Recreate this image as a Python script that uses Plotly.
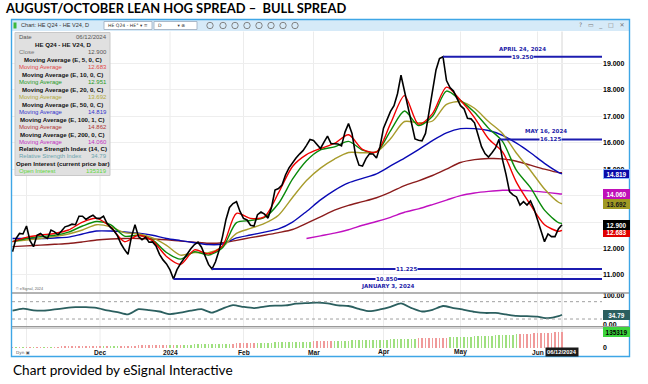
import pandas as pd
import plotly.graph_objects as go

W, H = 648, 384

# ---------------- DATA ----------------
HOLIDAYS = ["2023-11-23", "2023-12-25", "2024-01-01", "2024-01-15",
            "2024-02-19", "2024-03-29", "2024-05-27"]
sessions = [d.strftime("%Y-%m-%d") for d in
            pd.bdate_range("2023-10-26", "2024-06-12", freq="C", holidays=HOLIDAYS)]

close = [11.88, 12.38, 12.57, 12.55, 12.85, 12.30, 12.07, 12.50, 12.57, 12.45,
         12.38, 12.70, 12.63, 12.52, 12.66, 12.82, 12.86, 12.92, 12.90, 13.22,
         13.22, 13.10, 13.19, 13.26, 13.14, 13.14, 13.22, 12.95, 12.80, 12.67,
         12.48, 12.18, 11.96, 11.78, 12.45, 12.90, 12.45, 12.33, 12.43, 12.24,
         12.25, 12.10, 11.78, 11.57, 11.42, 11.19, 10.85, 11.20, 11.43, 11.62,
         11.85, 12.00, 12.15, 12.24, 12.05, 11.70, 11.40, 11.225, 11.50, 11.92,
         12.45, 13.10, 13.55, 13.70, 13.77, 13.40, 13.14, 13.08, 12.88, 12.85,
         13.28, 13.38, 13.30, 13.15, 13.55, 14.21, 14.27, 14.40, 14.78, 15.05,
         15.25, 15.42, 15.57, 15.70, 15.90, 16.12, 16.08, 15.92, 15.78, 16.02,
         16.25, 15.97, 15.95, 15.95, 15.88, 16.40, 16.72, 16.35, 15.55, 15.15,
         15.12, 15.40, 15.58, 15.57, 15.42, 15.85, 16.55, 16.87, 17.18, 17.40,
         17.85, 18.55, 17.95, 17.32, 16.68, 16.14, 16.09, 16.07, 16.35, 17.15,
         18.10, 18.75, 19.18, 19.25, 18.35, 18.08, 17.95, 17.65, 17.40, 17.28,
         16.92, 16.90, 16.75, 16.30, 15.85, 15.59, 15.46, 15.62, 15.80, 16.125,
         15.36, 14.80, 14.15, 14.03, 13.95, 13.64, 13.77, 13.64, 13.80, 13.50,
         13.10, 12.70, 12.26, 12.55, 12.45, 12.45, 12.75, 12.90]

ma_dates = sessions[::4] + [sessions[-1]]
ma5 = [12.26, 12.42, 12.51, 12.57, 12.70, 13.00, 13.14, 12.82, 12.26, 12.50,
       12.30, 11.70, 11.40, 11.95, 11.80, 12.10, 13.33, 13.14, 13.20, 14.10,
       15.10, 15.55, 15.78, 15.97, 16.30, 15.75, 15.65, 16.72, 17.78, 16.70,
       17.10, 18.10, 17.60, 16.95, 16.15, 15.65, 14.50, 13.65, 12.90, 12.65, 12.683]
ma10 = [12.26, 12.38, 12.45, 12.50, 12.62, 12.85, 13.02, 12.90, 12.47, 12.50,
        12.33, 11.85, 11.60, 11.88, 11.75, 12.03, 12.98, 13.06, 13.18, 13.70,
        14.62, 15.32, 15.73, 15.84, 16.05, 15.72, 15.65, 16.45, 17.20, 16.65,
        17.00, 17.95, 17.60, 17.15, 16.55, 16.05, 14.95, 14.30, 13.45, 12.98, 12.951]
ma20 = [12.26, 12.32, 12.38, 12.45, 12.55, 12.70, 12.90, 12.82, 12.60, 12.56,
        12.40, 12.12, 11.75, 11.85, 11.84, 12.06, 12.57, 12.76, 12.95, 13.26,
        13.93, 14.57, 15.04, 15.38, 15.63, 15.62, 15.65, 16.15, 16.80, 16.75,
        16.82, 17.45, 17.55, 17.30, 16.80, 16.35, 15.60, 14.95, 14.25, 13.75, 13.692]
ma50 = [12.38, 12.38, 12.38, 12.40, 12.43, 12.55, 12.66, 12.66, 12.63, 12.58,
        12.50, 12.38, 12.30, 12.22, 12.15, 12.17, 12.40, 12.51, 12.62, 12.74,
        13.00, 13.40, 13.84, 14.20, 14.48, 14.65, 14.82, 15.12, 15.42, 15.74,
        16.08, 16.37, 16.53, 16.53, 16.46, 16.28, 15.98, 15.62, 15.22, 14.88, 14.819]
ma100 = [12.07, 12.10, 12.13, 12.16, 12.19, 12.25, 12.32, 12.36, 12.38, 12.38,
         12.36, 12.33, 12.28, 12.24, 12.20, 12.22, 12.31, 12.41, 12.50, 12.60,
         12.72, 12.95, 13.20, 13.45, 13.63, 13.77, 13.92, 14.13, 14.38, 14.56,
         14.76, 15.00, 15.25, 15.36, 15.40, 15.39, 15.30, 15.15, 15.00, 14.87, 14.862]
ma200 = [None] * 21 + [12.38, 12.48, 12.58, 12.71, 12.88, 13.02, 13.18, 13.37, 13.50,
                       13.66, 13.83, 14.00, 14.10, 14.16, 14.20, 14.20, 14.18, 14.13,
                       14.07, 14.06]

rsi_dates = sessions[::3] + [sessions[-1]]
rsi = [49, 56, 50, 49, 53, 57.5, 61, 61, 58.5, 50, 44, 36, 54, 51, 46, 37, 42, 49,
       54, 42, 56, 68, 62, 58, 63, 66, 67, 73, 75, 76.5, 74, 67, 65, 55, 47, 53,
       62, 74, 58, 46, 52, 65, 58, 52, 45, 41, 41, 36, 31, 30, 28, 23, 30, 34.79]

oi = [4000, 4300, 4700, 5000, 5400, 5700, 6100, 6400, 6800, 7100, 7500, 7800, 8200,
      8500, 8900, 9200, 9600, 9900, 10300, 10600, 11000, 11300, 11700, 12000, 12400,
      12800, 13300, 13700, 14200, 14600, 15100, 15500, 16000, 16400, 16900, 17300,
      17800, 18200, 18700, 19100, 19600, 20000, 20500, 20900, 21400,
      21900, 22600, 23300, 24000, 24700, 25400, 26100, 26800, 27500, 28200, 28900,
      29600, 30300, 31000, 31700, 32400, 33100, 33800, 34500, 35200, 35900,
      36600, 37400, 38200, 39000, 39800, 40600, 41400, 42200, 43000, 43800, 44600,
      45400, 46200, 47000, 47800, 48600, 49400, 50200, 51000, 51800,
      52600, 53400, 54200, 55000, 55800, 56600, 57400, 58200, 59000, 59800, 60600,
      61400, 62200, 63000, 63800, 64600, 65400, 66200, 67000, 67800,
      68700, 69700, 70700, 71700, 72700, 73700, 74700, 75700, 76700, 77700, 78700,
      79700, 80700, 81700, 82700, 83700, 84700, 85700, 86700, 87700, 88700, 89700,
      91000, 92500, 94000, 95500, 97000, 98500, 100000, 101500, 103000, 104500,
      106000, 107500, 109000, 110500, 112000, 113500, 115000, 116500, 118000,
      119500, 121000, 122500,
      124000, 125500, 127000, 128500, 130000, 131500, 133400, 135319]
oi_dir = ("rgrgrrgrrgrgr" "rrrrrrrrrrrr" "rgrgggrr" "rrrrrrrrrrr" "rgrgrg"
          "ggggggggggggg" "rrrrrrr" "gggggggggg" "gggggg" "rrrrrr"
          "gggggggggggggggggggggggg" "rrrrrrrrr" "gggggggggggggggggggg" "rrrrrrrrrrrrr")

month_dates = ["2023-12-01", "2024-01-02", "2024-02-01", "2024-03-01",
               "2024-04-01", "2024-05-01", "2024-06-03"]
month_labels = ["Dec", "2024", "Feb", "Mar", "Apr", "May", "Jun"]
grid_dates = ["2023-11-01"] + month_dates

ext_dates = ["2024-04-24", "2024-05-16", "2024-01-19", "2024-01-03"]
ext_values = [19.250, 16.125, 11.225, 10.850]
ext_titles = ["APRIL 24, 2024", "MAY 16, 2024", "", "JANUARY 3, 2024"]

price_ticks = [11, 12, 13, 14, 15, 16, 17, 18, 19]
hidden_ticks = [13, 14]          # covered by the value tags in the original

# ---------------- GEOMETRY HELPERS ----------------
assert len(sessions) == len(close) == len(oi) == len(oi_dir)
pos = {d: k for k, d in enumerate(sessions)}
xs = list(range(len(sessions)))


def X(px):
    return px / W


def Y(py):
    return 1 - py / H


def KX(px):  # pixel -> session index
    return (px - 12.5) / 3.5


PL, PR = 12, 602
xr = [KX(PL), KX(PR)]

fig = go.Figure()

ma_x = [pos[d] for d in ma_dates]
ma_specs = [(ma100, "#8b1c1c"), (ma200, "#c010c0"), (ma50, "#0a0ab4"),
            (ma20, "#a89c2c"), (ma10, "#0a8a0a"), (ma5, "#f00000")]
for vals, col in ma_specs:
    fig.add_trace(go.Scatter(x=ma_x, y=vals, mode="lines", xaxis="x", yaxis="y",
                             line=dict(color=col, width=1.4, shape="spline", smoothing=0.8),
                             connectgaps=False))
fig.add_trace(go.Scatter(x=xs, y=close, mode="lines", xaxis="x", yaxis="y",
                         line=dict(color="#000000", width=1.6)))

fig.add_trace(go.Scatter(x=[pos[d] for d in rsi_dates], y=rsi, mode="lines",
                         xaxis="x2", yaxis="y2",
                         line=dict(color="#2b5f5f", width=1.8, shape="spline", smoothing=0.6)))

fig.add_trace(go.Bar(x=xs, y=oi, xaxis="x3", yaxis="y3", width=0.38,
                     marker=dict(color=["#9fe07f" if c == "g" else "#f09a9a" for c in oi_dir],
                                 line=dict(width=0))))

common_x = dict(domain=[X(PL), X(PR)], range=xr, showticklabels=False, showgrid=False,
                zeroline=False, showline=False, fixedrange=True, automargin=False)
tickfont = dict(family="Liberation Sans", size=7, color="#000000", weight="bold")

fig.update_layout(
    width=W, height=H, margin=dict(l=0, r=0, t=0, b=0, pad=0),
    paper_bgcolor="white", plot_bgcolor="white", showlegend=False, hovermode=False,
    bargap=0,
    xaxis=dict(anchor="y", **common_x),
    xaxis2=dict(anchor="y2", matches="x", **common_x),
    xaxis3=dict(anchor="y3", matches="x", **common_x),
    yaxis=dict(domain=[Y(292), Y(31.5)], range=[10.357, 20.202], side="right", anchor="x",
               tickvals=price_ticks,
               ticktext=["" if v in hidden_ticks else f"{v:.3f}" for v in price_ticks],
               tickfont=tickfont, showgrid=True, gridcolor="#eeeeee", gridwidth=1,
               zeroline=False, ticks="", fixedrange=True, automargin=False),
    yaxis2=dict(domain=[Y(326.5), Y(293.5)], range=[-5.9, 108.3], side="right", anchor="x2",
                tickvals=[0, 100], ticktext=["0.00", "100.00"], tickfont=tickfont,
                showgrid=False, zeroline=False, ticks="", fixedrange=True, automargin=False),
    yaxis3=dict(domain=[Y(348), Y(328)], range=[-4365, 170240], side="right", anchor="x3",
                tickvals=[0], ticktext=["0"], tickfont=tickfont,
                showgrid=False, zeroline=False, ticks="", fixedrange=True, automargin=False),
)

shapes = []
ann = []

# month grid lines
for d in grid_dates:
    shapes.append(dict(type="line", xref="x", yref="paper", x0=pos[d], x1=pos[d],
                       y0=Y(348), y1=Y(31.5), line=dict(color="#ececec", width=1), layer="below"))
# current bar line
shapes.append(dict(type="line", xref="x", yref="paper", x0=xs[-1], x1=xs[-1],
                   y0=Y(348), y1=Y(31.5), line=dict(color="#d6d6d6", width=1), layer="below"))

# RSI bands
for lvl in (80, 20):
    shapes.append(dict(type="line", xref="paper", yref="y2", x0=X(PL), x1=X(PR), y0=lvl, y1=lvl,
                       line=dict(color="#a0a0a0", width=1, dash="dot")))

# panel separators
shapes.append(dict(type="line", xref="paper", yref="paper", x0=X(11.5), x1=X(629), y0=Y(293), y1=Y(293),
                   line=dict(color="#9a9a9a", width=1.3)))
shapes.append(dict(type="line", xref="paper", yref="paper", x0=X(11.5), x1=X(629), y0=Y(326.6), y1=Y(326.6),
                   line=dict(color="#9a9a9a", width=1.2)))
shapes.append(dict(type="line", xref="paper", yref="paper", x0=X(11.5), x1=X(629), y0=Y(328.2), y1=Y(328.2),
                   line=dict(color="#c4c4c4", width=1.2)))

# extreme lines
for d, v in zip(ext_dates, ext_values):
    shapes.append(dict(type="line", xref="x", yref="y", x0=pos[d], x1=xr[1], y0=v, y1=v,
                       line=dict(color="#1c1cb0", width=2)))

ext_label_px = [522, 550, 406, 386]
ext_title_px = [522, 546, 0, 388]
ext_title_dy = [-8, -8, 0, 8]
afont = dict(family="DejaVu Sans", size=5.5, color="#1c1ca8")
for d, v, t, lx, tx, dy in zip(ext_dates, ext_values, ext_titles, ext_label_px, ext_title_px, ext_title_dy):
    ann.append(dict(xref="x", yref="y", x=KX(lx), y=v, text=f"<b>{v:.3f}</b>", showarrow=False,
                    font=afont, bgcolor="white", borderpad=0, xanchor="center", yanchor="middle"))
    if t:
        ann.append(dict(xref="x", yref="y", x=KX(tx), y=v, yshift=-dy, text=f"<b>{t}</b>",
                        showarrow=False, font=afont, xanchor="center", yanchor="middle"))

# ---- data window ----
shapes.append(dict(type="rect", xref="paper", yref="paper", x0=X(15), x1=X(110), y0=Y(175.5), y1=Y(32.5),
                   fillcolor="#e0e0e0", line=dict(color="#c9c9c9", width=1)))
dw_font = "Liberation Sans"
rows = [
    ("Date", "#555555", "06/12/2024", None),
    (None, None, None, "HE Q24 - HE V24, D"),
    ("Close", "#777777", f"{close[-1]:.3f}", None),
    (None, None, None, "Moving Average (E, 5, 0, C)"),
    ("Moving Average", "#e04848", f"{ma5[-1]:.3f}", None),
    (None, None, None, "Moving Average (E, 10, 0, C)"),
    ("Moving Average", "#1f9a1f", f"{ma10[-1]:.3f}", None),
    (None, None, None, "Moving Average (E, 20, 0, C)"),
    ("Moving Average", "#b2a83a", f"{ma20[-1]:.3f}", None),
    (None, None, None, "Moving Average (E, 50, 0, C)"),
    ("Moving Average", "#3434cc", f"{ma50[-1]:.3f}", None),
    (None, None, None, "Moving Average (E, 100, 1, C)"),
    ("Moving Average", "#b03434", f"{ma100[-1]:.3f}", None),
    (None, None, None, "Moving Average (E, 200, 0, C)"),
    ("Moving Average", "#c030c0", f"{ma200[-1]:.3f}", None),
    (None, None, None, "Relative Strength Index (14, C)"),
    ("Relative Strength Index", "#6aa4ae", f"{rsi[-1]:.2f}", None),
    (None, None, None, "Open Interest (current price bar)"),
    ("Open Interest", "#5cd63c", f"{oi[-1]}", None),
]
for n, (lab, col, val, head) in enumerate(rows):
    yy = 36.8 + n * 7.48
    if head:
        ann.append(dict(xref="paper", yref="paper", x=X(62.5), y=Y(yy), text=f"<b>{head}</b>",
                        showarrow=False, xanchor="center", yanchor="middle",
                        font=dict(family=dw_font, size=6.1, color="#111111")))
    else:
        ann.append(dict(xref="paper", yref="paper", x=X(17), y=Y(yy), text=lab, showarrow=False,
                        xanchor="left", yanchor="middle", font=dict(family=dw_font, size=6.0, color=col)))
        ann.append(dict(xref="paper", yref="paper", x=X(108.5), y=Y(yy), text=val, showarrow=False,
                        xanchor="right", yanchor="middle",
                        font=dict(family=dw_font, size=6.0, color=col if n > 2 else "#555555")))


# ---- value tags on the right ----
def tag(yref, val, txt, bg, fg, border=None, shift=0):
    ann.append(dict(xref="paper", yref=yref, x=X(603), y=val, yshift=shift, text=f"<b>{txt}</b>",
                    showarrow=False, xanchor="left", yanchor="middle", width=25, height=8,
                    align="center", valign="middle", bgcolor=bg,
                    bordercolor=border or bg, borderwidth=1, borderpad=0,
                    font=dict(family="Liberation Sans", size=6.4, color=fg)))


tag("y", 20.225, "20.225", "#1a1a1a", "white", shift=-2)
tag("y", ma50[-1], f"{ma50[-1]:.3f}", "#0a0aa8", "white", "#8ab8ff")
tag("y", ma200[-1], f"{ma200[-1]:.3f}", "#c010b8", "white")
tag("y", ma20[-1], f"{ma20[-1]:.3f}", "#a09a24", "#1a1a1a")
tag("y", ma5[-1], f"{ma5[-1]:.3f}", "#e00000", "white", shift=-1.5)
tag("y", close[-1], f"{close[-1]:.3f}", "#000000", "white")
tag("y2", rsi[-1], f"{rsi[-1]:.2f}", "#2b5f5f", "white")
tag("y3", oi[-1], f"{oi[-1]}", "#3cd43c", "#000000")

# ---- month labels ----
for d, lab in zip(month_dates, month_labels):
    ann.append(dict(xref="x", yref="paper", x=pos[d], y=Y(352.3), text=f"<b>{lab}</b>",
                    showarrow=False, xanchor="center", yanchor="middle",
                    font=dict(family="Liberation Sans", size=6.6, color="#111111")))
ann.append(dict(xref="x", yref="paper", x=xs[-1], y=Y(352.3), text="<b>06/12/2024</b>",
                showarrow=False, xanchor="center", yanchor="middle", bgcolor="#1a1a1a",
                borderpad=1, font=dict(family="Liberation Sans", size=5.8, color="white")))
ann.append(dict(xref="paper", yref="paper", x=X(13.5), y=Y(352.3), text="Dyn \u25a3",
                showarrow=False, xanchor="left", yanchor="middle",
                font=dict(family="DejaVu Sans", size=4.2, color="#555555")))
ann.append(dict(xref="paper", yref="paper", x=X(14), y=Y(288.5), text="\u00a9 eSignal, 2024",
                showarrow=False, xanchor="left", yanchor="middle",
                font=dict(family="Liberation Sans", size=3.8, color="#666666")))

# ---- window frame & toolbar ----
shapes.append(dict(type="rect", xref="paper", yref="paper", x0=X(11.5), x1=X(629.5), y0=Y(31), y1=Y(19.5),
                   fillcolor="#d6eaf8", line=dict(width=0), layer="below"))
shapes.append(dict(type="rect", xref="paper", yref="paper", x0=X(11.5), x1=X(629.5), y0=Y(356.5), y1=Y(19.5),
                   fillcolor="rgba(0,0,0,0)", line=dict(color="#3ea6e6", width=1.4)))
shapes.append(dict(type="rect", xref="paper", yref="paper", x0=X(13.5), x1=X(16.5), y0=Y(28.5), y1=Y(22.5),
                   fillcolor="#3cb83c", line=dict(width=0)))
ann.append(dict(xref="paper", yref="paper", x=X(19), y=Y(25.3), text="Chart: HE Q24 - HE V24, D",
                showarrow=False, xanchor="left", yanchor="middle",
                font=dict(family="Liberation Sans", size=5.6, color="#333333")))
for x0, x1, txt in [(104, 152, "HE Q24 - HE\u00b0 \u25be \u2261"), (154, 197, "D           \u25be \u2297")]:
    shapes.append(dict(type="rect", xref="paper", yref="paper", x0=X(x0), x1=X(x1), y0=Y(29.5), y1=Y(21.5),
                       fillcolor="white", line=dict(color="#9aaabb", width=0.8)))
    ann.append(dict(xref="paper", yref="paper", x=X(x0 + 2), y=Y(25.5), text=txt, showarrow=False,
                    xanchor="left", yanchor="middle",
                    font=dict(family="DejaVu Sans", size=4.6, color="#333333")))
for cx in [210, 223, 235, 247, 259, 271, 283, 295]:
    shapes.append(dict(type="circle", xref="paper", yref="paper", x0=X(cx - 3.2), x1=X(cx + 3.2),
                       y0=Y(28.7), y1=Y(22.3), line=dict(color="#777777", width=0.9)))
ann.append(dict(xref="paper", yref="paper", x=X(626), y=Y(25.3), text="?   \u25ad   _   \u25a1   \u2715",
                showarrow=False, xanchor="right", yanchor="middle",
                font=dict(family="DejaVu Sans", size=6, color="#777777")))

# ---- title & caption ----
ann.append(dict(xref="paper", yref="paper", x=X(2.5), y=Y(7.5),
                text="<b>AUGUST/OCTOBER LEAN HOG SPREAD \u2013  BULL SPREAD</b>", showarrow=False,
                xanchor="left", yanchor="middle", font=dict(family="Lato", size=12.9, color="#000000")))
ann.append(dict(xref="paper", yref="paper", x=X(11), y=Y(369.5), text="Chart provided by eSignal Interactive",
                showarrow=False, xanchor="left", yanchor="middle",
                font=dict(family="Lato", size=13.6, color="#000000")))

fig.update_layout(shapes=shapes, annotations=ann)
fig.write_html("out.html", config={"displayModeBar": False, "staticPlot": True},
               post_script="document.body.style.margin='0px';")
